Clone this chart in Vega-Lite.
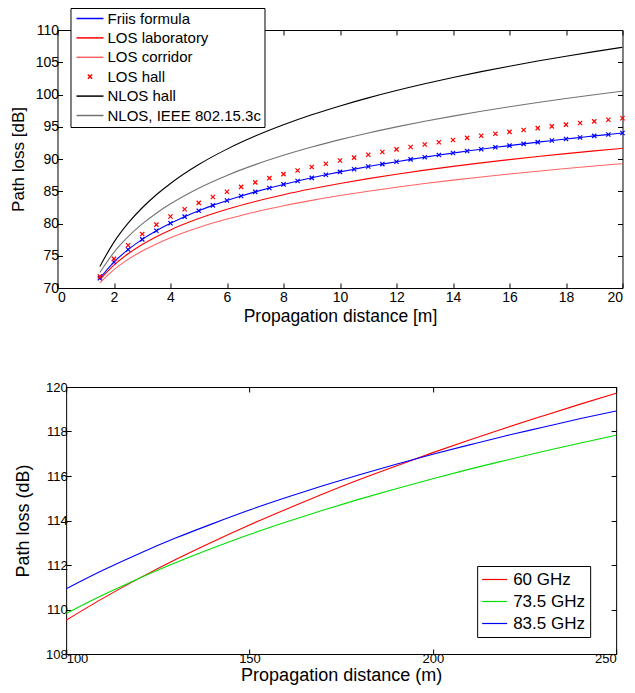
{
  "$schema": "https://vega.github.io/schema/vega-lite/v6.json",
  "background": "white",
  "padding": {"left": 9, "top": 7, "right": 5, "bottom": 0},
  "config": {
    "font": "Liberation Sans",
    "view": {"stroke": "black", "strokeWidth": 1},
    "axis": {"grid": false, "domain": false, "ticks": true, "tickColor": "black", "tickSize": -5, "labelColor": "black", "titleColor": "black", "titleFontWeight": "normal", "labelFont": "Liberation Sans", "titleFont": "Liberation Sans"},
    "legend": {"labelFont": "Liberation Sans", "labelColor": "black"}
  },
  "datasets": {
    "top": [
      {"s": "Friis formula", "d": 1.5, "pl": 71.52}, {"s": "Friis formula", "d": 2, "pl": 74.02}, {"s": "Friis formula", "d": 2.5, "pl": 75.96}, {"s": "Friis formula", "d": 3, "pl": 77.54}, {"s": "Friis formula", "d": 3.5, "pl": 78.88}, {"s": "Friis formula", "d": 4, "pl": 80.04}, {"s": "Friis formula", "d": 4.5, "pl": 81.06}, {"s": "Friis formula", "d": 5, "pl": 81.98}, {"s": "Friis formula", "d": 5.5, "pl": 82.81}, {"s": "Friis formula", "d": 6, "pl": 83.56}, {"s": "Friis formula", "d": 6.5, "pl": 84.26}, {"s": "Friis formula", "d": 7, "pl": 84.90}, {"s": "Friis formula", "d": 7.5, "pl": 85.50}, {"s": "Friis formula", "d": 8, "pl": 86.06}, {"s": "Friis formula", "d": 8.5, "pl": 86.59}, {"s": "Friis formula", "d": 9, "pl": 87.08}, {"s": "Friis formula", "d": 9.5, "pl": 87.55}, {"s": "Friis formula", "d": 10, "pl": 88.00}, {"s": "Friis formula", "d": 10.5, "pl": 88.42}, {"s": "Friis formula", "d": 11, "pl": 88.83}, {"s": "Friis formula", "d": 11.5, "pl": 89.21}, {"s": "Friis formula", "d": 12, "pl": 89.58}, {"s": "Friis formula", "d": 12.5, "pl": 89.94}, {"s": "Friis formula", "d": 13, "pl": 90.28}, {"s": "Friis formula", "d": 13.5, "pl": 90.61}, {"s": "Friis formula", "d": 14, "pl": 90.92}, {"s": "Friis formula", "d": 14.5, "pl": 91.23}, {"s": "Friis formula", "d": 15, "pl": 91.52}, {"s": "Friis formula", "d": 15.5, "pl": 91.81}, {"s": "Friis formula", "d": 16, "pl": 92.08}, {"s": "Friis formula", "d": 16.5, "pl": 92.35}, {"s": "Friis formula", "d": 17, "pl": 92.61}, {"s": "Friis formula", "d": 17.5, "pl": 92.86}, {"s": "Friis formula", "d": 18, "pl": 93.11}, {"s": "Friis formula", "d": 18.5, "pl": 93.34}, {"s": "Friis formula", "d": 19, "pl": 93.58}, {"s": "Friis formula", "d": 19.5, "pl": 93.80}, {"s": "Friis formula", "d": 20, "pl": 94.02},
      {"s": "LOS hall", "d": 1.5, "pl": 71.80}, {"s": "LOS hall", "d": 2, "pl": 74.52}, {"s": "LOS hall", "d": 2.5, "pl": 76.63}, {"s": "LOS hall", "d": 3, "pl": 78.36}, {"s": "LOS hall", "d": 3.5, "pl": 79.82}, {"s": "LOS hall", "d": 4, "pl": 81.09}, {"s": "LOS hall", "d": 4.5, "pl": 82.20}, {"s": "LOS hall", "d": 5, "pl": 83.20}, {"s": "LOS hall", "d": 5.5, "pl": 84.10}, {"s": "LOS hall", "d": 6, "pl": 84.92}, {"s": "LOS hall", "d": 6.5, "pl": 85.68}, {"s": "LOS hall", "d": 7, "pl": 86.38}, {"s": "LOS hall", "d": 7.5, "pl": 87.04}, {"s": "LOS hall", "d": 8, "pl": 87.65}, {"s": "LOS hall", "d": 8.5, "pl": 88.22}, {"s": "LOS hall", "d": 9, "pl": 88.76}, {"s": "LOS hall", "d": 9.5, "pl": 89.27}, {"s": "LOS hall", "d": 10, "pl": 89.76}, {"s": "LOS hall", "d": 10.5, "pl": 90.22}, {"s": "LOS hall", "d": 11, "pl": 90.66}, {"s": "LOS hall", "d": 11.5, "pl": 91.08}, {"s": "LOS hall", "d": 12, "pl": 91.49}, {"s": "LOS hall", "d": 12.5, "pl": 91.87}, {"s": "LOS hall", "d": 13, "pl": 92.24}, {"s": "LOS hall", "d": 13.5, "pl": 92.60}, {"s": "LOS hall", "d": 14, "pl": 92.94}, {"s": "LOS hall", "d": 14.5, "pl": 93.28}, {"s": "LOS hall", "d": 15, "pl": 93.60}, {"s": "LOS hall", "d": 15.5, "pl": 93.91}, {"s": "LOS hall", "d": 16, "pl": 94.21}, {"s": "LOS hall", "d": 16.5, "pl": 94.50}, {"s": "LOS hall", "d": 17, "pl": 94.78}, {"s": "LOS hall", "d": 17.5, "pl": 95.06}, {"s": "LOS hall", "d": 18, "pl": 95.33}, {"s": "LOS hall", "d": 18.5, "pl": 95.58}, {"s": "LOS hall", "d": 19, "pl": 95.84}, {"s": "LOS hall", "d": 19.5, "pl": 96.08}, {"s": "LOS hall", "d": 20, "pl": 96.32},
      {"s": "LOS laboratory", "d": 1.5, "pl": 71.30}, {"s": "LOS laboratory", "d": 2, "pl": 73.56}, {"s": "LOS laboratory", "d": 2.5, "pl": 75.31}, {"s": "LOS laboratory", "d": 3, "pl": 76.75}, {"s": "LOS laboratory", "d": 3.5, "pl": 77.96}, {"s": "LOS laboratory", "d": 4, "pl": 79.01}, {"s": "LOS laboratory", "d": 5, "pl": 80.76}, {"s": "LOS laboratory", "d": 6, "pl": 82.20}, {"s": "LOS laboratory", "d": 7, "pl": 83.41}, {"s": "LOS laboratory", "d": 8, "pl": 84.46}, {"s": "LOS laboratory", "d": 9, "pl": 85.38}, {"s": "LOS laboratory", "d": 10, "pl": 86.21}, {"s": "LOS laboratory", "d": 11, "pl": 86.96}, {"s": "LOS laboratory", "d": 12, "pl": 87.64}, {"s": "LOS laboratory", "d": 13, "pl": 88.27}, {"s": "LOS laboratory", "d": 14, "pl": 88.85}, {"s": "LOS laboratory", "d": 15, "pl": 89.40}, {"s": "LOS laboratory", "d": 16, "pl": 89.90}, {"s": "LOS laboratory", "d": 17, "pl": 90.38}, {"s": "LOS laboratory", "d": 18, "pl": 90.83}, {"s": "LOS laboratory", "d": 19, "pl": 91.26}, {"s": "LOS laboratory", "d": 20, "pl": 91.66},
      {"s": "LOS corridor", "d": 1.5, "pl": 70.80}, {"s": "LOS corridor", "d": 2, "pl": 72.85}, {"s": "LOS corridor", "d": 2.5, "pl": 74.44}, {"s": "LOS corridor", "d": 3, "pl": 75.74}, {"s": "LOS corridor", "d": 3.5, "pl": 76.84}, {"s": "LOS corridor", "d": 4, "pl": 77.80}, {"s": "LOS corridor", "d": 5, "pl": 79.39}, {"s": "LOS corridor", "d": 6, "pl": 80.69}, {"s": "LOS corridor", "d": 7, "pl": 81.79}, {"s": "LOS corridor", "d": 8, "pl": 82.74}, {"s": "LOS corridor", "d": 9, "pl": 83.58}, {"s": "LOS corridor", "d": 10, "pl": 84.33}, {"s": "LOS corridor", "d": 11, "pl": 85.01}, {"s": "LOS corridor", "d": 12, "pl": 85.63}, {"s": "LOS corridor", "d": 13, "pl": 86.20}, {"s": "LOS corridor", "d": 14, "pl": 86.73}, {"s": "LOS corridor", "d": 15, "pl": 87.22}, {"s": "LOS corridor", "d": 16, "pl": 87.68}, {"s": "LOS corridor", "d": 17, "pl": 88.11}, {"s": "LOS corridor", "d": 18, "pl": 88.52}, {"s": "LOS corridor", "d": 19, "pl": 88.91}, {"s": "LOS corridor", "d": 20, "pl": 89.27},
      {"s": "NLOS hall", "d": 1.5, "pl": 73.35}, {"s": "NLOS hall", "d": 2, "pl": 77.12}, {"s": "NLOS hall", "d": 2.5, "pl": 80.05}, {"s": "NLOS hall", "d": 3, "pl": 82.44}, {"s": "NLOS hall", "d": 3.5, "pl": 84.46}, {"s": "NLOS hall", "d": 4, "pl": 86.21}, {"s": "NLOS hall", "d": 5, "pl": 89.14}, {"s": "NLOS hall", "d": 6, "pl": 91.53}, {"s": "NLOS hall", "d": 7, "pl": 93.55}, {"s": "NLOS hall", "d": 8, "pl": 95.30}, {"s": "NLOS hall", "d": 9, "pl": 96.85}, {"s": "NLOS hall", "d": 10, "pl": 98.23}, {"s": "NLOS hall", "d": 11, "pl": 99.48}, {"s": "NLOS hall", "d": 12, "pl": 100.62}, {"s": "NLOS hall", "d": 13, "pl": 101.67}, {"s": "NLOS hall", "d": 14, "pl": 102.64}, {"s": "NLOS hall", "d": 15, "pl": 103.55}, {"s": "NLOS hall", "d": 16, "pl": 104.39}, {"s": "NLOS hall", "d": 17, "pl": 105.19}, {"s": "NLOS hall", "d": 18, "pl": 105.94}, {"s": "NLOS hall", "d": 19, "pl": 106.65}, {"s": "NLOS hall", "d": 20, "pl": 107.32},
      {"s": "NLOS, IEEE 802.15.3c", "d": 1.5, "pl": 72.40}, {"s": "NLOS, IEEE 802.15.3c", "d": 2, "pl": 75.53}, {"s": "NLOS, IEEE 802.15.3c", "d": 2.5, "pl": 77.95}, {"s": "NLOS, IEEE 802.15.3c", "d": 3, "pl": 79.93}, {"s": "NLOS, IEEE 802.15.3c", "d": 3.5, "pl": 81.60}, {"s": "NLOS, IEEE 802.15.3c", "d": 4, "pl": 83.05}, {"s": "NLOS, IEEE 802.15.3c", "d": 5, "pl": 85.48}, {"s": "NLOS, IEEE 802.15.3c", "d": 6, "pl": 87.46}, {"s": "NLOS, IEEE 802.15.3c", "d": 7, "pl": 89.13}, {"s": "NLOS, IEEE 802.15.3c", "d": 8, "pl": 90.58}, {"s": "NLOS, IEEE 802.15.3c", "d": 9, "pl": 91.86}, {"s": "NLOS, IEEE 802.15.3c", "d": 10, "pl": 93.00}, {"s": "NLOS, IEEE 802.15.3c", "d": 11, "pl": 94.04}, {"s": "NLOS, IEEE 802.15.3c", "d": 12, "pl": 94.98}, {"s": "NLOS, IEEE 802.15.3c", "d": 13, "pl": 95.85}, {"s": "NLOS, IEEE 802.15.3c", "d": 14, "pl": 96.65}, {"s": "NLOS, IEEE 802.15.3c", "d": 15, "pl": 97.40}, {"s": "NLOS, IEEE 802.15.3c", "d": 16, "pl": 98.10}, {"s": "NLOS, IEEE 802.15.3c", "d": 17, "pl": 98.76}, {"s": "NLOS, IEEE 802.15.3c", "d": 18, "pl": 99.38}, {"s": "NLOS, IEEE 802.15.3c", "d": 19, "pl": 99.97}, {"s": "NLOS, IEEE 802.15.3c", "d": 20, "pl": 100.53}
    ],
    "bottom": [
      {"s": "60 GHz", "d": 100, "pl": 109.52}, {"s": "60 GHz", "d": 110, "pl": 110.50}, {"s": "60 GHz", "d": 120, "pl": 111.41}, {"s": "60 GHz", "d": 130, "pl": 112.26}, {"s": "60 GHz", "d": 140, "pl": 113.05}, {"s": "60 GHz", "d": 150, "pl": 113.80}, {"s": "60 GHz", "d": 160, "pl": 114.51}, {"s": "60 GHz", "d": 170, "pl": 115.19}, {"s": "60 GHz", "d": 180, "pl": 115.84}, {"s": "60 GHz", "d": 190, "pl": 116.45}, {"s": "60 GHz", "d": 200, "pl": 117.05}, {"s": "60 GHz", "d": 210, "pl": 117.62}, {"s": "60 GHz", "d": 220, "pl": 118.17}, {"s": "60 GHz", "d": 230, "pl": 118.70}, {"s": "60 GHz", "d": 240, "pl": 119.22}, {"s": "60 GHz", "d": 250, "pl": 119.72},
      {"s": "73.5 GHz", "d": 100, "pl": 109.82}, {"s": "73.5 GHz", "d": 110, "pl": 110.65}, {"s": "73.5 GHz", "d": 120, "pl": 111.41}, {"s": "73.5 GHz", "d": 130, "pl": 112.11}, {"s": "73.5 GHz", "d": 140, "pl": 112.76}, {"s": "73.5 GHz", "d": 150, "pl": 113.37}, {"s": "73.5 GHz", "d": 160, "pl": 113.93}, {"s": "73.5 GHz", "d": 170, "pl": 114.46}, {"s": "73.5 GHz", "d": 180, "pl": 114.96}, {"s": "73.5 GHz", "d": 190, "pl": 115.43}, {"s": "73.5 GHz", "d": 200, "pl": 115.88}, {"s": "73.5 GHz", "d": 210, "pl": 116.31}, {"s": "73.5 GHz", "d": 220, "pl": 116.71}, {"s": "73.5 GHz", "d": 230, "pl": 117.10}, {"s": "73.5 GHz", "d": 240, "pl": 117.47}, {"s": "73.5 GHz", "d": 250, "pl": 117.83},
      {"s": "83.5 GHz", "d": 100, "pl": 110.93}, {"s": "83.5 GHz", "d": 110, "pl": 111.76}, {"s": "83.5 GHz", "d": 120, "pl": 112.52}, {"s": "83.5 GHz", "d": 130, "pl": 113.22}, {"s": "83.5 GHz", "d": 140, "pl": 113.86}, {"s": "83.5 GHz", "d": 150, "pl": 114.47}, {"s": "83.5 GHz", "d": 160, "pl": 115.03}, {"s": "83.5 GHz", "d": 170, "pl": 115.56}, {"s": "83.5 GHz", "d": 180, "pl": 116.06}, {"s": "83.5 GHz", "d": 190, "pl": 116.53}, {"s": "83.5 GHz", "d": 200, "pl": 116.98}, {"s": "83.5 GHz", "d": 210, "pl": 117.40}, {"s": "83.5 GHz", "d": 220, "pl": 117.81}, {"s": "83.5 GHz", "d": 230, "pl": 118.19}, {"s": "83.5 GHz", "d": 240, "pl": 118.57}, {"s": "83.5 GHz", "d": 250, "pl": 118.92}
    ]
  },
  "resolve": {"scale": {"color": "independent"}, "legend": {"color": "independent"}},
  "center": true,
  "spacing": 55,
  "vconcat": [
    {
      "width": 565,
      "height": 258,
      "data": {"name": "top"},
      "resolve": {"axis": {"x": "independent", "y": "independent"}},
      "encoding": {
        "color": {
          "field": "s", "type": "nominal",
          "scale": {"domain": ["Friis formula", "LOS laboratory", "LOS corridor", "LOS hall", "NLOS hall", "NLOS, IEEE 802.15.3c"], "range": ["#0000ff", "#ff0000", "#ff6464", "#ff0000", "#000000", "#737373"]},
          "legend": {"title": null, "orient": "none", "legendX": 13, "legendY": -22, "fillColor": "white", "strokeColor": "black", "padding": 3, "labelFontSize": 15, "labelOffset": 10, "rowPadding": 3.4, "symbolType": "stroke", "symbolSize": 182, "symbolOffset": 9, "symbolStrokeWidth": 1.5,
            "encode": {"symbols": {"update": {"shape": {"signal": "datum.value === 'LOS hall' ? 'M-1,-1L1,1M-1,1L1,-1' : 'M-2,0L2,0'"}, "size": {"signal": "datum.value === 'LOS hall' ? 18 : 182"}}}}}
        }
      },
      "layer": [
        {
          "transform": [{"filter": "datum.s !== 'LOS hall'"}],
          "mark": {"type": "line", "strokeWidth": 1.1, "interpolate": "monotone"},
          "encoding": {
            "x": {"field": "d", "type": "quantitative", "scale": {"domain": [0, 20], "nice": false}, "axis": {"orient": "bottom", "values": [0, 2, 4, 6, 8, 10, 12, 14, 16, 18, 20], "labelFontSize": 14, "labelPadding": 7, "title": "Propagation distance [m]", "titleFontSize": 17.5, "titlePadding": 3}},
            "y": {"field": "pl", "type": "quantitative", "scale": {"domain": [70, 110], "nice": false}, "axis": {"orient": "left", "values": [70, 75, 80, 85, 90, 95, 100, 105, 110], "labelFontSize": 14, "labelPadding": 4, "title": "Path loss [dB]", "titleFontSize": 17, "titlePadding": 7.5}}
          }
        },
        {
          "transform": [{"filter": "datum.s === 'Friis formula' || datum.s === 'LOS hall'"}],
          "mark": {"type": "point", "shape": "M-1,-1L1,1M-1,1L1,-1", "filled": false, "size": 18, "strokeWidth": 1.2, "opacity": 1},
          "encoding": {
            "x": {"field": "d", "type": "quantitative", "scale": {"domain": [0, 20], "nice": false}, "axis": {"orient": "top", "values": [0, 2, 4, 6, 8, 10, 12, 14, 16, 18, 20], "labels": false, "title": null}},
            "y": {"field": "pl", "type": "quantitative", "scale": {"domain": [70, 110], "nice": false}, "axis": {"orient": "right", "values": [70, 75, 80, 85, 90, 95, 100, 105, 110], "labels": false, "title": null}}
          }
        }
      ]
    },
    {
      "width": 550,
      "height": 267,
      "data": {"name": "bottom"},
      "resolve": {"axis": {"x": "independent", "y": "independent"}},
      "encoding": {
        "color": {
          "field": "s", "type": "nominal",
          "scale": {"domain": ["60 GHz", "73.5 GHz", "83.5 GHz"], "range": ["#ff0000", "#00e000", "#0000ff"]},
          "legend": {"title": null, "orient": "none", "legendX": 411, "legendY": 179, "fillColor": "white", "strokeColor": "black", "padding": 5, "labelFontSize": 17, "labelOffset": 10, "rowPadding": 4, "symbolType": "stroke", "symbolSize": 156, "symbolOffset": 4, "symbolStrokeWidth": 1.2,
            "encode": {"symbols": {"update": {"shape": {"value": "M-2,0L2,0"}, "size": {"value": 156}}}}}
        }
      },
      "layer": [
        {
          "transform": [{"filter": "datum.s !== '83.5 GHz'"}],
          "mark": {"type": "line", "strokeWidth": 1.1, "interpolate": "monotone"},
          "encoding": {
            "x": {"field": "d", "type": "quantitative", "scale": {"domain": [100, 250], "nice": false}, "axis": {"orient": "bottom", "values": [100, 150, 200, 250], "labelFontSize": 13, "labelPadding": 3, "title": "Propagation distance (m)", "titleFontSize": 18, "titlePadding": 1}},
            "y": {"field": "pl", "type": "quantitative", "scale": {"domain": [108, 120], "nice": false}, "axis": {"orient": "left", "values": [108, 110, 112, 114, 116, 118, 120], "labelFontSize": 13, "labelPadding": 4, "title": "Path loss (dB)", "titleFontSize": 18, "titlePadding": 12.5}}
          }
        },
        {
          "transform": [{"filter": "datum.s === '83.5 GHz'"}],
          "mark": {"type": "line", "strokeWidth": 1.1, "interpolate": "monotone"},
          "encoding": {
            "x": {"field": "d", "type": "quantitative", "scale": {"domain": [100, 250], "nice": false}, "axis": {"orient": "top", "values": [100, 150, 200, 250], "labels": false, "title": null}},
            "y": {"field": "pl", "type": "quantitative", "scale": {"domain": [108, 120], "nice": false}, "axis": {"orient": "right", "values": [108, 110, 112, 114, 116, 118, 120], "labels": false, "title": null}}
          }
        }
      ]
    }
  ]
}
